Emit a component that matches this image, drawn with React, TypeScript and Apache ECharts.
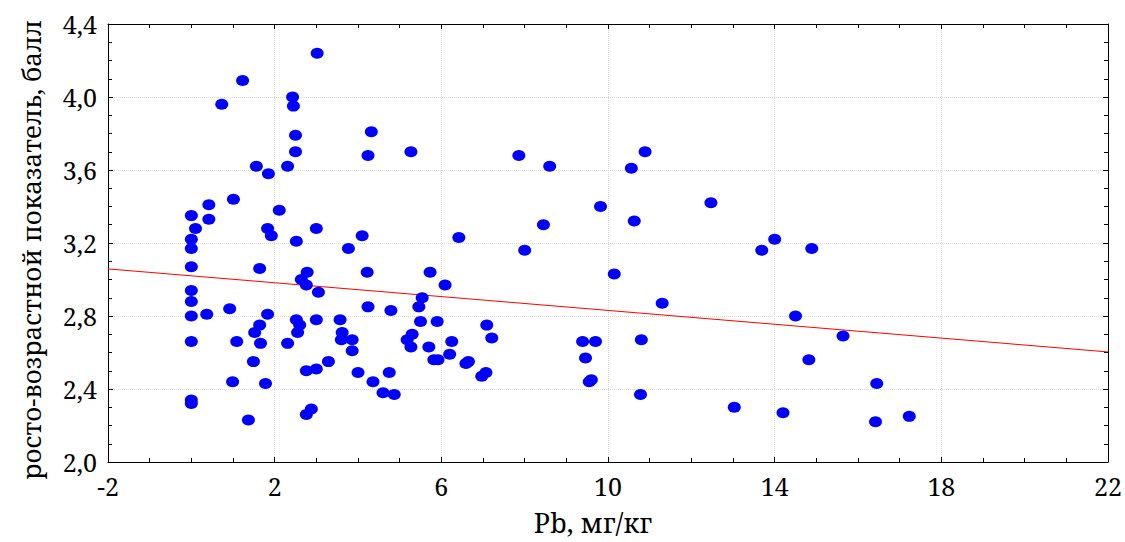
import React, { useEffect, useRef } from "react";
import * as echarts from "echarts";

const xValues = [
  0, 0, 0, 0, 0, 0, 0, 0, 0, 0,
  3.02, 1.23, 0.73, 2.43, 2.45, 2.5, 2.5, 1.56, 1.85, 2.31,
  4.32, 4.24, 5.27, 1.01, 0.42, 0.42, 0.1, 2.11, 1.83, 1.92,
  3.0, 4.1, 6.42, 2.52, 1.64, 0.92, 0.37, 1.09, 1.49, 0.99,
  1.64, 1.52, 1.66, 1.83, 1.78, 1.37, 2.31, 3.77, 2.78, 2.64,
  2.76, 3.05, 4.22, 4.24, 4.79, 2.52, 2.6, 2.55, 3.0, 3.57,
  3.62, 3.6, 3.86, 3.86, 3.29, 2.76, 3.0, 4.0, 4.36, 4.75,
  4.6, 4.87, 2.76, 2.88, 5.73, 6.09, 5.54, 5.46, 5.5, 5.9,
  5.18, 5.3, 5.27, 5.7, 6.25, 5.82, 5.92, 6.2, 6.59, 6.65,
  7.86, 8.6, 10.89, 10.56, 9.82, 12.47, 10.63, 8.45, 8.0, 13.69,
  14.0, 14.89, 10.15, 11.3, 14.5, 15.64, 7.09, 7.21, 7.07, 6.97,
  9.39, 9.7, 10.8, 9.46, 9.6, 9.55, 10.78, 14.82, 16.45, 13.03,
  14.2, 16.42, 17.23,
];

const yValues = [
  3.35, 3.22, 3.17, 3.07, 2.94, 2.88, 2.8, 2.66, 2.34, 2.32,
  4.24, 4.09, 3.96, 4.0, 3.95, 3.79, 3.7, 3.62, 3.58, 3.62,
  3.81, 3.68, 3.7, 3.44, 3.41, 3.33, 3.28, 3.38, 3.28, 3.24,
  3.28, 3.24, 3.23, 3.21, 3.06, 2.84, 2.81, 2.66, 2.55, 2.44,
  2.75, 2.71, 2.65, 2.81, 2.43, 2.23, 2.65, 3.17, 3.04, 3.0,
  2.97, 2.93, 3.04, 2.85, 2.83, 2.78, 2.75, 2.71, 2.78, 2.78,
  2.71, 2.67, 2.67, 2.61, 2.55, 2.5, 2.51, 2.49, 2.44, 2.49,
  2.38, 2.37, 2.26, 2.29, 3.04, 2.97, 2.9, 2.85, 2.77, 2.77,
  2.67, 2.7, 2.63, 2.63, 2.66, 2.56, 2.56, 2.59, 2.54, 2.55,
  3.68, 3.62, 3.7, 3.61, 3.4, 3.42, 3.32, 3.3, 3.16, 3.16,
  3.22, 3.17, 3.03, 2.87, 2.8, 2.69, 2.75, 2.68, 2.49, 2.47,
  2.66, 2.66, 2.67, 2.57, 2.45, 2.44, 2.37, 2.56, 2.43, 2.3,
  2.27, 2.22, 2.25,
];

const fitX = [-2, 22];
const fitY = [3.058, 2.603];

const xTitle = "Pb, мг/кг";
const yTitle = "росто-возрастной показатель, балл";

const FONT = "Noto Serif";

export default function App() {
  const ref = useRef<HTMLDivElement>(null);

  useEffect(() => {
    if (!ref.current) return;
    const chart = echarts.init(ref.current, null, { renderer: "svg" });
    const points = xValues.map((x, i) => [x, yValues[i]]);
    const fit = fitX.map((x, i) => [x, fitY[i]]);

    const xBase = {
      type: "value" as const,
      min: -2,
      max: 22,
      interval: 4,
      axisLine: { show: true, onZero: false, lineStyle: { color: "#000", width: 1 } },
      axisTick: { show: true, inside: true, length: 5, lineStyle: { color: "#000" } },
      minorTick: { show: true, splitNumber: 4, length: 4, lineStyle: { color: "#000" } },
    };
    const yBase = {
      type: "value" as const,
      min: 2.0,
      max: 4.4,
      interval: 0.4,
      axisLine: { show: true, onZero: false, lineStyle: { color: "#000", width: 1 } },
      axisTick: { show: true, inside: true, length: 5, lineStyle: { color: "#000" } },
      minorTick: { show: true, splitNumber: 4, length: 4, lineStyle: { color: "#000" } },
    };

    chart.setOption({
      animation: false,
      backgroundColor: "#fff",
      textStyle: { fontFamily: FONT, color: "#000" },
      grid: { left: 108, right: 14, top: 24, bottom: 80, containLabel: false },
      graphic: [
        {
          type: "text",
          x: 593,
          y: 522,
          style: {
            text: xTitle,
            fontFamily: FONT,
            fontSize: 27,
            fill: "#000",
            textAlign: "center",
            textVerticalAlign: "middle",
          },
        },
        {
          type: "text",
          x: 31,
          y: 250,
          rotation: Math.PI / 2,
          style: {
            text: yTitle,
            fontFamily: FONT,
            fontSize: 26,
            fill: "#000",
            textAlign: "center",
            textVerticalAlign: "middle",
          },
        },
      ],
      xAxis: [
        {
          ...xBase,
          position: "bottom",
          axisLabel: {
            fontFamily: FONT,
            fontSize: 25,
            color: "#000",
            margin: 11,
            formatter: (v: number) => String(v),
          },
          splitLine: { show: true, lineStyle: { color: "#d8d8d8", type: "dotted", width: 1 } },
        },
        {
          ...xBase,
          position: "top",
          axisLabel: { show: false },
          splitLine: { show: false },
        },
      ],
      yAxis: [
        {
          ...yBase,
          position: "left",
          axisLabel: {
            fontFamily: FONT,
            fontSize: 25,
            color: "#000",
            margin: 11,
            formatter: (v: number) => v.toFixed(1).replace(".", ","),
          },
          splitLine: { show: true, lineStyle: { color: "#d8d8d8", type: "dotted", width: 1 } },
        },
        {
          ...yBase,
          position: "right",
          axisLabel: { show: false },
          splitLine: { show: false },
        },
      ],
      series: [
        {
          type: "line",
          data: fit,
          xAxisIndex: 0,
          yAxisIndex: 0,
          showSymbol: false,
          symbol: "none",
          lineStyle: { color: "#ff0000", width: 1 },
          z: 3,
        },
        {
          type: "scatter",
          data: points,
          xAxisIndex: 0,
          yAxisIndex: 0,
          symbol: "circle",
          symbolSize: [13, 11],
          itemStyle: { color: "#0000ff", opacity: 1 },
          z: 4,
        },
      ],
    });
    return () => chart.dispose();
  }, []);

  return (
    <div
      ref={ref}
      style={{ position: "fixed", left: 0, top: 0, width: 1125, height: 542, background: "#fff" }}
    />
  );
}
